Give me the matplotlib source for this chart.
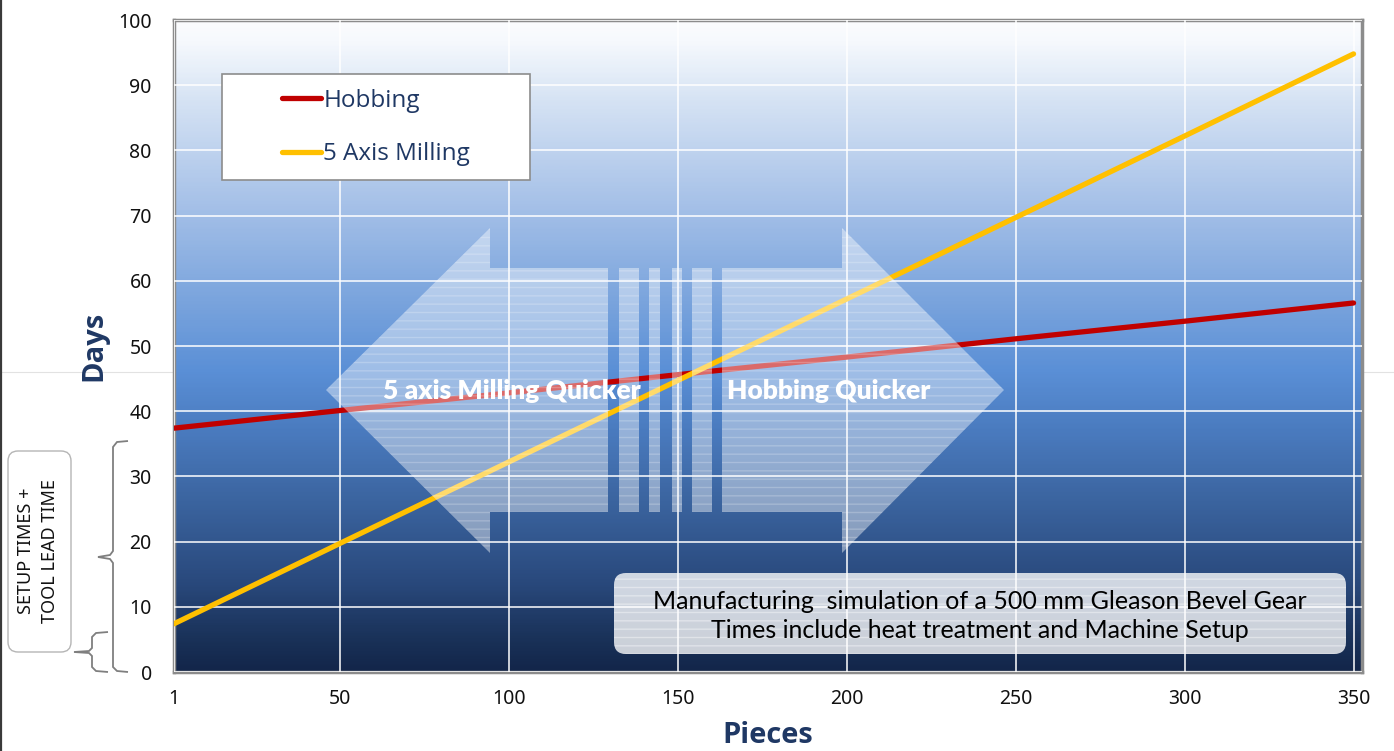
import numpy as np
import matplotlib
matplotlib.use("Agg")
import matplotlib.pyplot as plt
from matplotlib.colors import LinearSegmentedColormap
from matplotlib.patches import Polygon, Rectangle, FancyBboxPatch, PathPatch
from matplotlib.path import Path
from matplotlib.lines import Line2D
from matplotlib.transforms import Affine2D

# data
pieces = [1, 50, 100, 150, 200, 250, 300, 350]
hobbing_days = [37.4, 40.1, 42.8, 45.6, 48.3, 51.1, 53.8, 56.6]
milling_days = [7.4, 19.7, 32.2, 44.7, 57.2, 69.7, 82.2, 94.8]
series_labels = ["Hobbing", "5 Axis Milling"]
y_ticks = list(range(0, 101, 10))
arrow_labels = ["5 axis Milling Quicker", "Hobbing Quicker"]
note_lines = ["Manufacturing  simulation of a 500 mm Gleason Bevel Gear",
              "Times include heat treatment and Machine Setup"]
setup_label = "SETUP TIMES +\nTOOL LEAD TIME"

W, H, DPI = 1394, 751, 100
NAVY = "#1f3864"
RED = "#c00000"
GOLD = "#ffc000"

fig = plt.figure(figsize=(W / DPI, H / DPI), dpi=DPI, facecolor="white")
# pixel coords measured from the top-left corner of the picture
PX = Affine2D().scale(1 / DPI, -1 / DPI).translate(0, H / DPI) + fig.dpi_scale_trans

ax = fig.add_axes([174 / W, 79 / H, 1188 / W, 652 / H])

# background gradient, bottom -> top
grad = LinearSegmentedColormap.from_list("bg", [
    (0.00, "#13264a"), (0.05, "#1a3259"), (0.14, "#2a4a7e"),
    (0.26, "#3b649f"), (0.37, "#4a7bbf"), (0.46, "#5a8fd6"),
    (0.57, "#7aa4dd"), (0.72, "#a6c1e8"), (0.88, "#d6e3f4"),
    (0.97, "#f6f9fd"), (1.00, "#fbfcfe")])
ax.imshow(np.linspace(0, 1, 400).reshape(-1, 1), cmap=grad, origin="lower",
          extent=[0, 1, 0, 1], transform=ax.transAxes, aspect="auto", zorder=0)

ax.set_xlim(1, 352.5)
ax.set_ylim(0, 100)
ax.set_xticks(pieces)
ax.set_yticks(y_ticks)
ax.grid(True, color="white", lw=1.1, zorder=1)
ax.set_axisbelow(False)
ax.tick_params(length=0, labelsize=14, labelcolor="#111111")
ax.tick_params(axis="y", pad=16)
ax.tick_params(axis="x", pad=12)
for lab in ax.get_xticklabels() + ax.get_yticklabels():
    lab.set_fontfamily("Noto Sans")
for sp in ax.spines.values():
    sp.set_color("#8c8c8c")
    sp.set_linewidth(2.5)

ax.plot(pieces, hobbing_days, color=RED, lw=3.8, solid_capstyle="round",
        label=series_labels[0], zorder=3)
ax.plot(pieces, milling_days, color=GOLD, lw=3.8, solid_capstyle="round",
        label=series_labels[1], zorder=3)

ax.set_ylabel("Days", fontsize=21, fontweight="bold", color=NAVY,
              family="Open Sans", labelpad=7)
ax.set_xlabel("Pieces", fontsize=21, fontweight="bold", color=NAVY,
              family="Open Sans", labelpad=9)

# legend: white box plus frameless legend inside it
ax.add_patch(Rectangle((222, 74), 308, 106, transform=PX, fc="white",
                       ec="#8c8c8c", lw=1.2, zorder=6, clip_on=False))
leg = ax.legend(loc="upper left", bbox_to_anchor=(282, 89), bbox_transform=PX,
                frameon=False, fontsize=17.5, handlelength=1.6,
                handletextpad=0.1, labelspacing=1.2, borderpad=0,
                borderaxespad=0)
leg.set_zorder(7)
for t in leg.get_texts():
    t.set_color(NAVY)
    t.set_fontfamily("Open Sans")

# double headed arrow with broken shaft
arrow_style = dict(transform=PX, fc=(1, 1, 1, 0.42), ec=(1, 1, 1, 0.22),
                   lw=0, hatch="--", zorder=4, clip_on=False)
ax.add_patch(Polygon([(326, 390), (490, 228), (490, 268), (608, 268),
                      (608, 512), (490, 512), (490, 553)], **arrow_style))
ax.add_patch(Polygon([(722, 268), (842, 268), (842, 228), (1004, 390),
                      (842, 553), (842, 512), (722, 512)], **arrow_style))
for x0, x1 in [(619, 639), (649, 660), (672, 682), (692, 712)]:
    ax.add_patch(Rectangle((x0, 268), x1 - x0, 244, **arrow_style))
ax.text(512, 391, arrow_labels[0], transform=PX, ha="center", va="center",
        color="white", fontsize=19, fontweight="heavy", family="Lato",
        zorder=5)
ax.text(829, 391, arrow_labels[1], transform=PX, ha="center", va="center",
        color="white", fontsize=19, fontweight="heavy", family="Lato",
        zorder=5)

# note box
ax.add_patch(FancyBboxPatch((614, 573), 732, 81,
                            boxstyle="round,pad=0,rounding_size=12",
                            transform=PX, fc=(1, 1, 1, 0.78),
                            ec=(1, 1, 1, 0.4), lw=0, hatch="--", zorder=4,
                            clip_on=False))
ax.text(980, 616, "\n".join(note_lines), transform=PX, ha="center",
        va="center", fontsize=18, family="Lato", color="black",
        linespacing=1.32, zorder=5)

# left annotation: setup time box and braces
fig.add_artist(FancyBboxPatch((8, 451), 63, 201,
                              boxstyle="round,pad=0,rounding_size=10",
                              transform=PX, fc="white", ec="#b5b5b5", lw=1))
fig.text(38, 551, setup_label, transform=PX, rotation=90, ha="center",
         va="center", fontsize=13, family="Noto Sans", color="#111111",
         multialignment="center", linespacing=1.4)
big_brace = [(128, 441), (117, 442), (113, 447), (113, 551), (110, 555),
             (98, 557), (110, 559), (113, 563), (113, 667), (117, 671),
             (128, 672)]
small_brace = [(108, 632), (96, 633), (92, 637), (92, 648), (89, 651),
               (74, 652), (89, 653), (92, 656), (92, 667), (96, 671),
               (108, 672)]
for pts in (big_brace, small_brace):
    fig.add_artist(PathPatch(Path(pts), transform=PX, fc="none",
                             ec="#7f7f7f", lw=1.3))

# slide artefacts: thin rule across the page and dark left edge
fig.add_artist(Line2D([0, W], [372, 372], transform=PX, color="#e2e2e2",
                      lw=0.8, zorder=-1))
fig.add_artist(Line2D([0.8, 0.8], [0, H], transform=PX, color="#3a3a3a",
                      lw=1.6))

fig.savefig("out.png", dpi=DPI, facecolor="white")
